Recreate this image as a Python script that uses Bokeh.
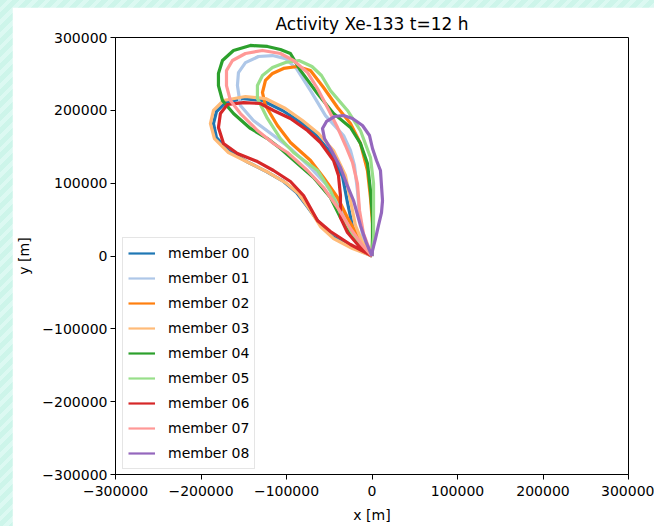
from bokeh.plotting import figure
from bokeh.models import Range1d, FixedTicker, Legend, LegendItem
from bokeh.layouts import column
from bokeh.embed import file_html
from bokeh.resources import INLINE

title_text = "Activity Xe-133 t=12 h"
members = ["member 00", "member 01", "member 02", "member 03", "member 04",
           "member 05", "member 06", "member 07", "member 08"]
ticks = [-300000, -200000, -100000, 0, 100000, 200000, 300000]
tick_labels = ["\u2212300000", "\u2212200000", "\u2212100000", "0", "100000", "200000", "300000"]

m00_x = [0, -25200, -46200, -60300, -76600, -88300, -103500, -123400, -144500, -167900, -181900, -185400,
         -181900, -171400, -150300, -128100, -104700, -84800, -66100, -48600, -34500, -28700, -22800, -13500]
m00_y = [0, 13000, 26800, 43200, 69400, 87200, 102300, 115900, 128300, 144800, 162700, 181900,
         198400, 210700, 216200, 213500, 199800, 184700, 166800, 142100, 109200, 73500, 40500, 17200]

m01_x = [0, -10000, -22800, -39200, -54400, -74300, -95400, -115200, -138700, -153900, -157400, -156200,
         -148000, -132800, -116400, -101200, -88300, -71900, -54400, -33300, -25200, -20500, -17000,
         -14600, -11100]
m01_y = [0, 14400, 39100, 72100, 99500, 124300, 147600, 165400, 186000, 206600, 234000, 251800,
         265500, 273900, 275200, 271000, 257300, 227100, 192800, 165400, 144900, 124300, 89900,
         55600, 28100]

m02_x = [0, -5300, -15800, -28700, -40300, -56700, -71900, -95400, -110600, -124600, -128100, -124600,
         -116400, -103500, -87200, -72000, -56700, -40300, -25200, -13500, -5300, -1800, 600, 600]
m02_y = [0, 7600, 25400, 52900, 80300, 107800, 131100, 155800, 179200, 206600, 224500, 241000,
         250600, 257500, 260200, 254700, 231400, 203900, 181900, 154500, 117400, 80300, 44600, 17200]

m03_x = [0, -22800, -45000, -60300, -74300, -86000, -101200, -121100, -142200, -167900, -184300, -189000,
         -185400, -173700, -148000, -124600, -101200, -81300, -62600, -45000, -31000, -25200, -19300, -11100]
m03_y = [0, 10300, 24000, 40500, 66600, 85800, 100900, 114600, 127000, 142100, 161300, 181900,
         199800, 213500, 219000, 216200, 202500, 186100, 168200, 144900, 110500, 76200, 41900, 18500]

m04_x = [0, -7600, -22800, -36900, -48600, -68400, -87200, -107100, -122300, -142200, -162000, -174900,
         -179600, -179600, -174900, -162000, -142200, -122300, -107100, -95400, -83700, -63800, -45000,
         -25200, -13500, -5300, -1800, 600, 600]
m04_y = [0, 8900, 28100, 52900, 80300, 107800, 127000, 147600, 161300, 175100, 195600, 213500,
         234000, 250600, 268500, 282200, 289100, 287700, 283600, 278100, 254800, 223200, 195800,
         176400, 154500, 127000, 89900, 52900, 25400]

m05_x = [0, -8800, -22800, -36900, -48600, -63800, -91800, -107100, -122300, -134000, -134000, -128100,
         -116400, -101200, -85400, -70200, -59100, -48600, -28700, -13500, -1800, 1800, 1800, 1800]
m05_y = [0, 8900, 30900, 58400, 89900, 117400, 142100, 161300, 188800, 216200, 234000, 247800,
         258800, 265700, 268400, 260200, 247800, 227100, 199800, 172300, 135200, 99500, 52900, 25400]

m06_x = [0, -25200, -48600, -63800, -80100, -95400, -115200, -134000, -157400, -173700, -179600, -177300,
         -169100, -150300, -130500, -115200, -95400, -75500, -60300, -45000, -39200, -36900, -36900,
         -28700, -15800]
m06_y = [0, 15800, 33600, 48700, 83100, 102300, 117400, 129700, 140700, 154500, 176400, 195600,
         208000, 210700, 209400, 199800, 188800, 172300, 155800, 131100, 110500, 83100, 52900,
         32300, 14400]

m07_x = [0, -11100, -25200, -40300, -56700, -75500, -98900, -115200, -134000, -153900, -165600, -170200,
         -170200, -163200, -148000, -128100, -107100, -91800, -75500, -63800, -52100, -40300, -31000,
         -22800, -17000, -14600, -10000]
m07_y = [0, 14400, 37800, 66600, 94000, 117400, 142100, 154500, 172300, 195600, 213500, 234000,
         254600, 268400, 278000, 282200, 278000, 268400, 252000, 230000, 203900, 176400, 151700,
         128400, 99500, 62500, 30900]

m08_x = [0, -6400, -13500, -21600, -29800, -36900, -48600, -55600, -57900, -53200, -43900, -33300,
         -22800, -11100, -2900, 600, 5300, 9900, 11100, 12300, 11100, 7600, 4100, 600]
m08_y = [0, 17200, 41900, 76200, 99500, 121500, 147600, 161300, 175100, 184700, 191500, 192900,
         188800, 179200, 165400, 147600, 131100, 117400, 96800, 76200, 59700, 41900, 24000, 7600]

xs = [m00_x, m01_x, m02_x, m03_x, m04_x, m05_x, m06_x, m07_x, m08_x]
ys = [m00_y, m01_y, m02_y, m03_y, m04_y, m05_y, m06_y, m07_y, m08_y]

colors = ["#1f77b4", "#aec7e8", "#ff7f0e", "#ffbb78", "#2ca02c",
          "#98df8a", "#d62728", "#ff9896", "#9467bd"]

FONT = "DejaVu Sans"

p = figure(width=642, height=519, output_backend="svg", toolbar_location=None,
           x_range=Range1d(-300000, 300000), y_range=Range1d(-300000, 300000),
           min_border_left=103, min_border_right=26, min_border_top=30, min_border_bottom=52,
           border_fill_color="white", background_fill_color="white")
p.margin = (7, 0, 0, 12)

p.title.text = title_text
p.title.align = "center"
p.title.text_font = FONT
p.title.text_font_size = "17px"
p.title.text_font_style = "normal"
p.title.text_color = "black"
p.title.standoff = 7

p.grid.visible = False
p.outline_line_color = "black"
p.outline_line_width = 1
p.outline_line_alpha = 1

for ax in (p.xaxis[0], p.yaxis[0]):
    ax.ticker = FixedTicker(ticks=ticks)
    ax.major_label_overrides = {t: l for t, l in zip(ticks, tick_labels)}
    ax.major_label_text_font = FONT
    ax.major_label_text_font_size = "14px"
    ax.major_label_text_color = "black"
    ax.axis_label_text_font = FONT
    ax.axis_label_text_font_size = "14px"
    ax.axis_label_text_font_style = "normal"
    ax.axis_label_text_color = "black"
    ax.minor_tick_line_color = None
    ax.major_tick_out = 5
    ax.major_tick_in = 0
    ax.major_tick_line_color = "black"
    ax.axis_line_color = "black"

p.xaxis.axis_label = "x [m]"
p.yaxis.axis_label = "y [m]"
p.xaxis.major_label_standoff = 6
p.xaxis.axis_label_standoff = 8
p.yaxis.major_label_standoff = 3
p.yaxis.axis_label_standoff = 7

for i in range(len(members)):
    x = xs[i] + [xs[i][0]]
    y = ys[i] + [ys[i][0]]
    p.line(x, y, line_color=colors[i], line_width=3.2, line_join="round")

items = []
for i in range(len(members)):
    r = p.line([1e9, 1e9 + 1], [1e9, 1e9 + 1], line_color=colors[i], line_width=2.2)
    items.append(LegendItem(label=members[i], renderers=[r]))

legend = Legend(items=items, location=(7, 5), margin=0, padding=5, spacing=5,
                label_height=20, glyph_height=20, glyph_width=27, label_standoff=13,
                label_text_font=FONT, label_text_font_size="14px", label_text_color="black",
                border_line_color="#cccccc", border_line_width=1,
                background_fill_color="white", background_fill_alpha=0.8)
p.add_layout(legend)

page = column(p, width=654, height=526,
              styles={"background": "repeating-linear-gradient(135deg, #cdf5ea 0px, #cdf5ea 5px, #dcf9f2 5px, #dcf9f2 9px)"})

open("out.html", "w").write(file_html(page, INLINE))
